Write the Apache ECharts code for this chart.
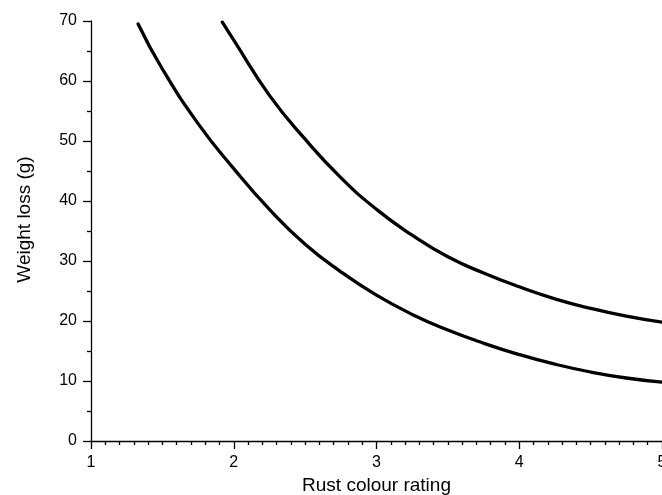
<!DOCTYPE html>
<html>
<head>
<meta charset="utf-8">
<script src="https://cdn.jsdelivr.net/npm/echarts@6/dist/echarts.min.js"></script>
<style>
html,body{margin:0;padding:0;background:#fff;}
#chart{width:662px;height:495px;}
</style>
</head>
<body>
<div id="chart"></div>
<script>
// Lower curve
var lowerX = [1.33, 1.5, 1.75, 2.0, 2.25, 2.5, 2.75, 3.0, 3.25, 3.5, 3.75, 4.0, 4.25, 4.5, 4.75, 5.0];
var lowerY = [69.5, 62.0, 52.9, 45.4, 38.6, 32.8, 28.2, 24.3, 21.1, 18.5, 16.3, 14.4, 12.8, 11.5, 10.5, 9.8];
// Upper curve
var upperX = [1.92, 2.0, 2.25, 2.5, 2.75, 3.0, 3.25, 3.5, 3.75, 4.0, 4.25, 4.5, 4.75, 5.0];
var upperY = [69.8, 66.8, 57.6, 50.3, 43.9, 38.6, 34.3, 30.7, 28.0, 25.7, 23.7, 22.1, 20.8, 19.8];
// Axes
var xTicks = [1, 2, 3, 4, 5];
var yTicks = [0, 10, 20, 30, 40, 50, 60, 70];
var xTitle = 'Rust colour rating';
var yTitle = 'Weight loss (g)';

function pairs(xs, ys) { return xs.map(function (x, i) { return [x, ys[i]]; }); }

var font = 'Liberation Sans, Arial, sans-serif';
var chart = echarts.init(document.getElementById('chart'), null, {renderer: 'canvas'});
chart.setOption({
  animation: false,
  backgroundColor: '#ffffff',
  grid: {left: 91, right: 0, top: 21, bottom: 54, containLabel: false, outerBoundsMode: 'none'},
  xAxis: {
    type: 'value',
    min: xTicks[0], max: xTicks[xTicks.length - 1], interval: 1,
    name: xTitle, nameLocation: 'middle', nameGap: 31,
    nameTextStyle: {fontFamily: font, fontSize: 19, color: '#000'},
    axisLine: {show: true, onZero: false, lineStyle: {color: '#000', width: 1.3}},
    axisTick: {show: true, inside: false, length: 8, lineStyle: {color: '#000', width: 1.3}},
    minorTick: {show: true, splitNumber: 10, length: 4, lineStyle: {color: '#000', width: 1.3}},
    axisLabel: {fontFamily: font, fontSize: 16, color: '#000', margin: 14, hideOverlap: false},
    splitLine: {show: false}
  },
  yAxis: {
    type: 'value',
    min: yTicks[0], max: yTicks[yTicks.length - 1], interval: 10,
    name: yTitle, nameLocation: 'middle', nameGap: 57, nameRotate: 90,
    nameTextStyle: {fontFamily: font, fontSize: 19, color: '#000', padding: [0, 0, 0, 23]},
    axisLine: {show: true, onZero: false, lineStyle: {color: '#000', width: 1.3}},
    axisTick: {show: true, inside: false, length: 8, lineStyle: {color: '#000', width: 1.3}},
    minorTick: {show: true, splitNumber: 2, length: 4, lineStyle: {color: '#000', width: 1.3}},
    axisLabel: {fontFamily: font, fontSize: 16, color: '#000', margin: 14},
    splitLine: {show: false}
  },
  series: [
    {type: 'line', data: pairs(lowerX, lowerY), smooth: 0.5, showSymbol: false, symbol: 'none',
     lineStyle: {color: '#000', width: 3.3, cap: 'round'}},
    {type: 'line', data: pairs(upperX, upperY), smooth: 0.5, showSymbol: false, symbol: 'none',
     lineStyle: {color: '#000', width: 3.3, cap: 'round'}}
  ]
});
</script>
</body>
</html>
